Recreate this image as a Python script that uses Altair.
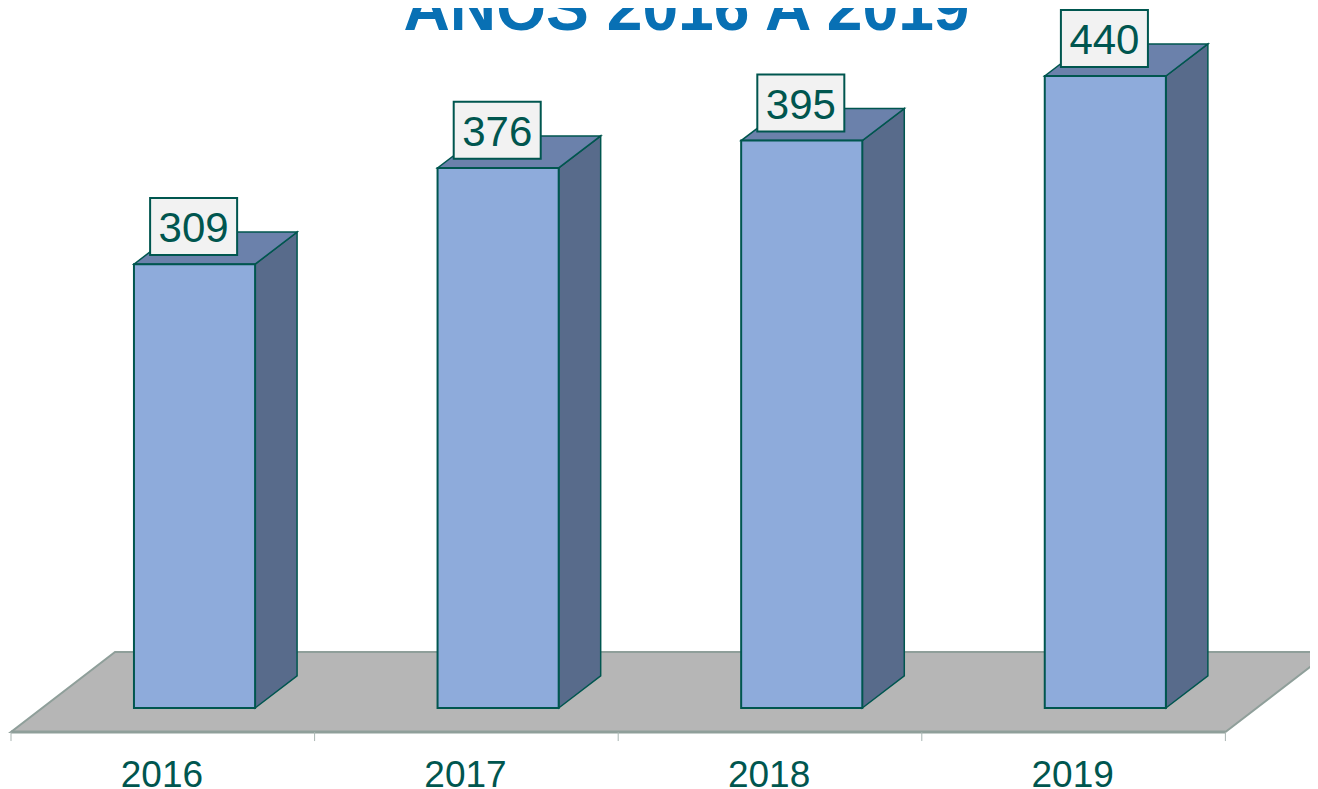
import altair as alt
import pandas as pd

years = ["2016", "2017", "2018", "2019"]
values = [309, 376, 395, 440]
title_text = "ANOS 2016 A 2019"

BAR_L, BAR_R = 0.405, 0.804      # bar edges inside each category slot
DX, DY = 0.1383, 22.3            # depth of the 3D box in axis units
BOX_HW = 0.1433                  # label box half width
BOX_LO, BOX_HI = 6.3, 46.0       # label box above the bar top
LAB_Y = 15.3
FLOOR_F, FLOOR_B, FLOOR_DX = -16.7, 39.0, 0.3426
TICK_END = -23.0
AXIS_LABEL_Y = -55.0
TITLE_X, TITLE_Y = 2.225, 471.8

PX_W, PX_H = 1302, 781
x_lo = (8 - 11) / 303.6
y_hi = (708 - 8) / 1.4364
x_scale = alt.Scale(domain=[x_lo, x_lo + PX_W / 303.6], nice=False, zero=False)
y_scale = alt.Scale(domain=[y_hi - PX_H / 1.4364, y_hi], nice=False, zero=False)

X = alt.X("x:Q", scale=x_scale, axis=None)
Y = alt.Y("y:Q", scale=y_scale, axis=None)
X2 = alt.X2("x2:Q")
Y2 = alt.Y2("y2:Q")

BAR_STROKE = "#00564f"
FLOOR_STROKE = "#8f9f9a"
TEXT = "#00564f"
FONT = "Liberation Sans"

n = len(years)

floor_df = pd.DataFrame({
    "x": [0, FLOOR_DX, n, n + FLOOR_DX],
    "y": [FLOOR_F, FLOOR_F, FLOOR_F, FLOOR_B],
    "y2": [FLOOR_F, FLOOR_B, FLOOR_B, FLOOR_B],
})
floor = alt.Chart(floor_df).mark_area(
    orient="vertical", color="#b6b6b6", stroke=FLOOR_STROKE, strokeWidth=2, clip=True
).encode(x=X, y=Y, y2=Y2)

axis_df = pd.DataFrame({"x": [0], "x2": [n], "y": [FLOOR_F]})
axis_line = alt.Chart(axis_df).mark_rule(color=FLOOR_STROKE, strokeWidth=3).encode(x=X, x2=X2, y=Y)

tick_df = pd.DataFrame({"x": list(range(n + 1)), "y": [FLOOR_F] * (n + 1), "y2": [TICK_END] * (n + 1)})
ticks = alt.Chart(tick_df).mark_rule(color="#a9b5b2", strokeWidth=1).encode(x=X, y=Y, y2=Y2)

side_rows, top_rows, front_rows, box_rows, lab_rows, year_rows = [], [], [], [], [], []
for i, (yr, v) in enumerate(zip(years, values)):
    l, r = i + BAR_L, i + BAR_R
    side_rows += [
        {"k": yr, "x": r, "y": 0, "y2": v},
        {"k": yr, "x": r + DX, "y": DY, "y2": v + DY},
    ]
    top_rows += [
        {"k": yr, "x": l, "y": v, "y2": v},
        {"k": yr, "x": l + DX, "y": v, "y2": v + DY},
        {"k": yr, "x": r, "y": v, "y2": v + DY},
        {"k": yr, "x": r + DX, "y": v + DY, "y2": v + DY},
    ]
    front_rows.append({"x": l, "x2": r, "y": 0, "y2": v})
    c = i + (BAR_L + BAR_R) / 2 - 0.003
    box_rows.append({"x": c - BOX_HW, "x2": c + BOX_HW, "y": v + BOX_LO, "y2": v + BOX_HI})
    lab_rows.append({"x": c, "y": v + LAB_Y, "t": str(v)})
    year_rows.append({"x": i + 0.5 - 0.003, "y": AXIS_LABEL_Y, "t": yr})

side = alt.Chart(pd.DataFrame(side_rows)).mark_area(
    orient="vertical", color="#586b8b", stroke=BAR_STROKE, strokeWidth=1.5
).encode(x=X, y=Y, y2=Y2, detail="k:N")
top = alt.Chart(pd.DataFrame(top_rows)).mark_area(
    orient="vertical", color="#6b81ab", stroke=BAR_STROKE, strokeWidth=1.5
).encode(x=X, y=Y, y2=Y2, detail="k:N")
front = alt.Chart(pd.DataFrame(front_rows)).mark_rect(
    color="#8eabdb", stroke=BAR_STROKE, strokeWidth=2
).encode(x=X, x2=X2, y=Y, y2=Y2)
boxes = alt.Chart(pd.DataFrame(box_rows)).mark_rect(
    color="#f2f2f2", stroke=BAR_STROKE, strokeWidth=2
).encode(x=X, x2=X2, y=Y, y2=Y2)
labels = alt.Chart(pd.DataFrame(lab_rows)).mark_text(
    font=FONT, fontSize=42, color=TEXT, align="center", baseline="alphabetic"
).encode(x=X, y=Y, text="t:N")
year_labels = alt.Chart(pd.DataFrame(year_rows)).mark_text(
    font=FONT, fontSize=37, color=TEXT, align="center", baseline="alphabetic"
).encode(x=X, y=Y, text="t:N")
title = alt.Chart(pd.DataFrame({"x": [TITLE_X], "y": [TITLE_Y], "t": [title_text]})).mark_text(
    font=FONT, fontSize=64.2, fontWeight="bold", color="#0870b4", align="center", baseline="alphabetic"
).encode(x=X, y=Y, text="t:N")

chart = alt.layer(
    floor, axis_line, ticks, side, top, front, boxes, labels, year_labels, title
).properties(
    width=PX_W, height=PX_H, padding=0, background="white", autosize=alt.AutoSizeParams(type="none")
).configure_view(stroke=None)

chart.save("out.html", embed_options={"renderer": "svg", "actions": False})
